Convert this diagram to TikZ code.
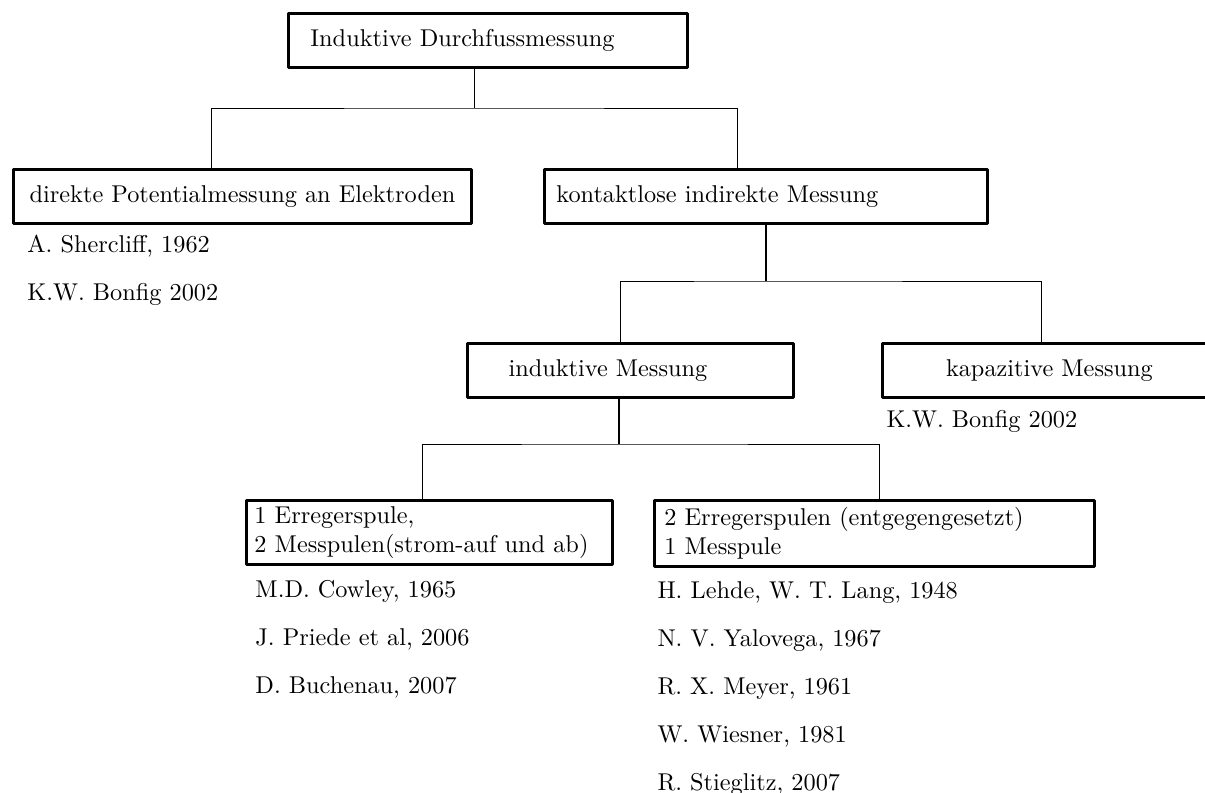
\documentclass[tikz,border=0pt]{standalone}
\usetikzlibrary{calc}
\begin{document}
\begin{tikzpicture}[x=0.4115pt, y=-0.4115pt,
    box/.style={draw, very thick, line join=round, minimum height=22.2pt, inner ysep=0pt},
    boxl/.style={box, align=left, anchor=north west},
    ref/.style={inner sep=0pt, anchor=base west},
    stem/.style={line width=0.8pt}]
  \useasboundingbox (0,0) rectangle (1205,792);
  % Ebene 1
  \node[boxl, inner xsep=9.05pt, text width=146.1pt] (top) at (287,12) {Induktive Durchfussmessung};
  % Ebene 2
  \node[box, anchor=north west, minimum width=188.5pt] (direkt) at (12,168) {direkte Potentialmessung an Elektroden};
  \node[boxl, inner xsep=4.9pt, text width=172.5pt] (kontakt) at (543,168) {kontaktlose indirekte Messung};
  % Ebene 3
  \node[boxl, inner xsep=16.9pt, text width=100.3pt] (induk) at (466,342) {induktive Messung};
  \node[box, anchor=north west, minimum width=137.4pt] (kapaz) at (881,342) {kapazitive Messung};
  % Ebene 4
  \node[boxl, inner xsep=3.3pt, text width=144pt, minimum height=26.3pt] (spule1) at (245,499)
    {1 Erregerspule,\\2 Messpulen(strom-auf und ab)};
  \node[boxl, inner xsep=4.1pt, text width=172.9pt, minimum height=27.2pt] (spule2) at (653,499)
    {2 Erregerspulen (entgegengesetzt)\\1 Messpule};
  % Literatur
  \node[ref] (shercliff) at ($(direkt.south west)+(15,28)$) {A. Shercliff, 1962};
  \node[ref] (bonfig1) at ($(direkt.south west)+(15,76)$) {K.W. Bonfig 2002};
  \node[ref] (bonfig2) at ($(kapaz.south west)+(5,29)$) {K.W. Bonfig 2002};
  \foreach \txt [count=\i from 0] in {{M.D. Cowley, 1965}, {J. Priede et al, 2006}, {D. Buchenau, 2007}}
    \node[ref] (litA\i) at ($(spule1.south west)+(10,{32+48*\i})$) {\txt};
  \foreach \txt [count=\i from 0] in {{H. Lehde, W. T. Lang, 1948}, {N. V. Yalovega, 1967},
      {R. X. Meyer, 1961}, {W. Wiesner, 1981}, {R. Stieglitz, 2007}}
    \node[ref] (litB\i) at ($(spule2.south west)+(4,{30+48*\i})$) {\txt};
  % Verbindungen
  \coordinate (j1) at (474,108);
  \draw (top.south -| j1) -- (j1);
  \draw (direkt.north -| 211,0) |- (j1) -| (kontakt.north -| 737,0);
  \coordinate (j2) at (kontakt.south |- 0,281);
  \draw[stem] (kontakt.south) -- (j2);
  \draw (induk.north -| 620,0) |- (j2) -| (kapaz.north -| 1041,0);
  \coordinate (j3) at (619,444);
  \draw[stem] (induk.south -| j3) -- (j3);
  \draw (spule1.north -| 422,0) |- (j3) -| (spule2.north -| 879,0);
\end{tikzpicture}
\end{document}
